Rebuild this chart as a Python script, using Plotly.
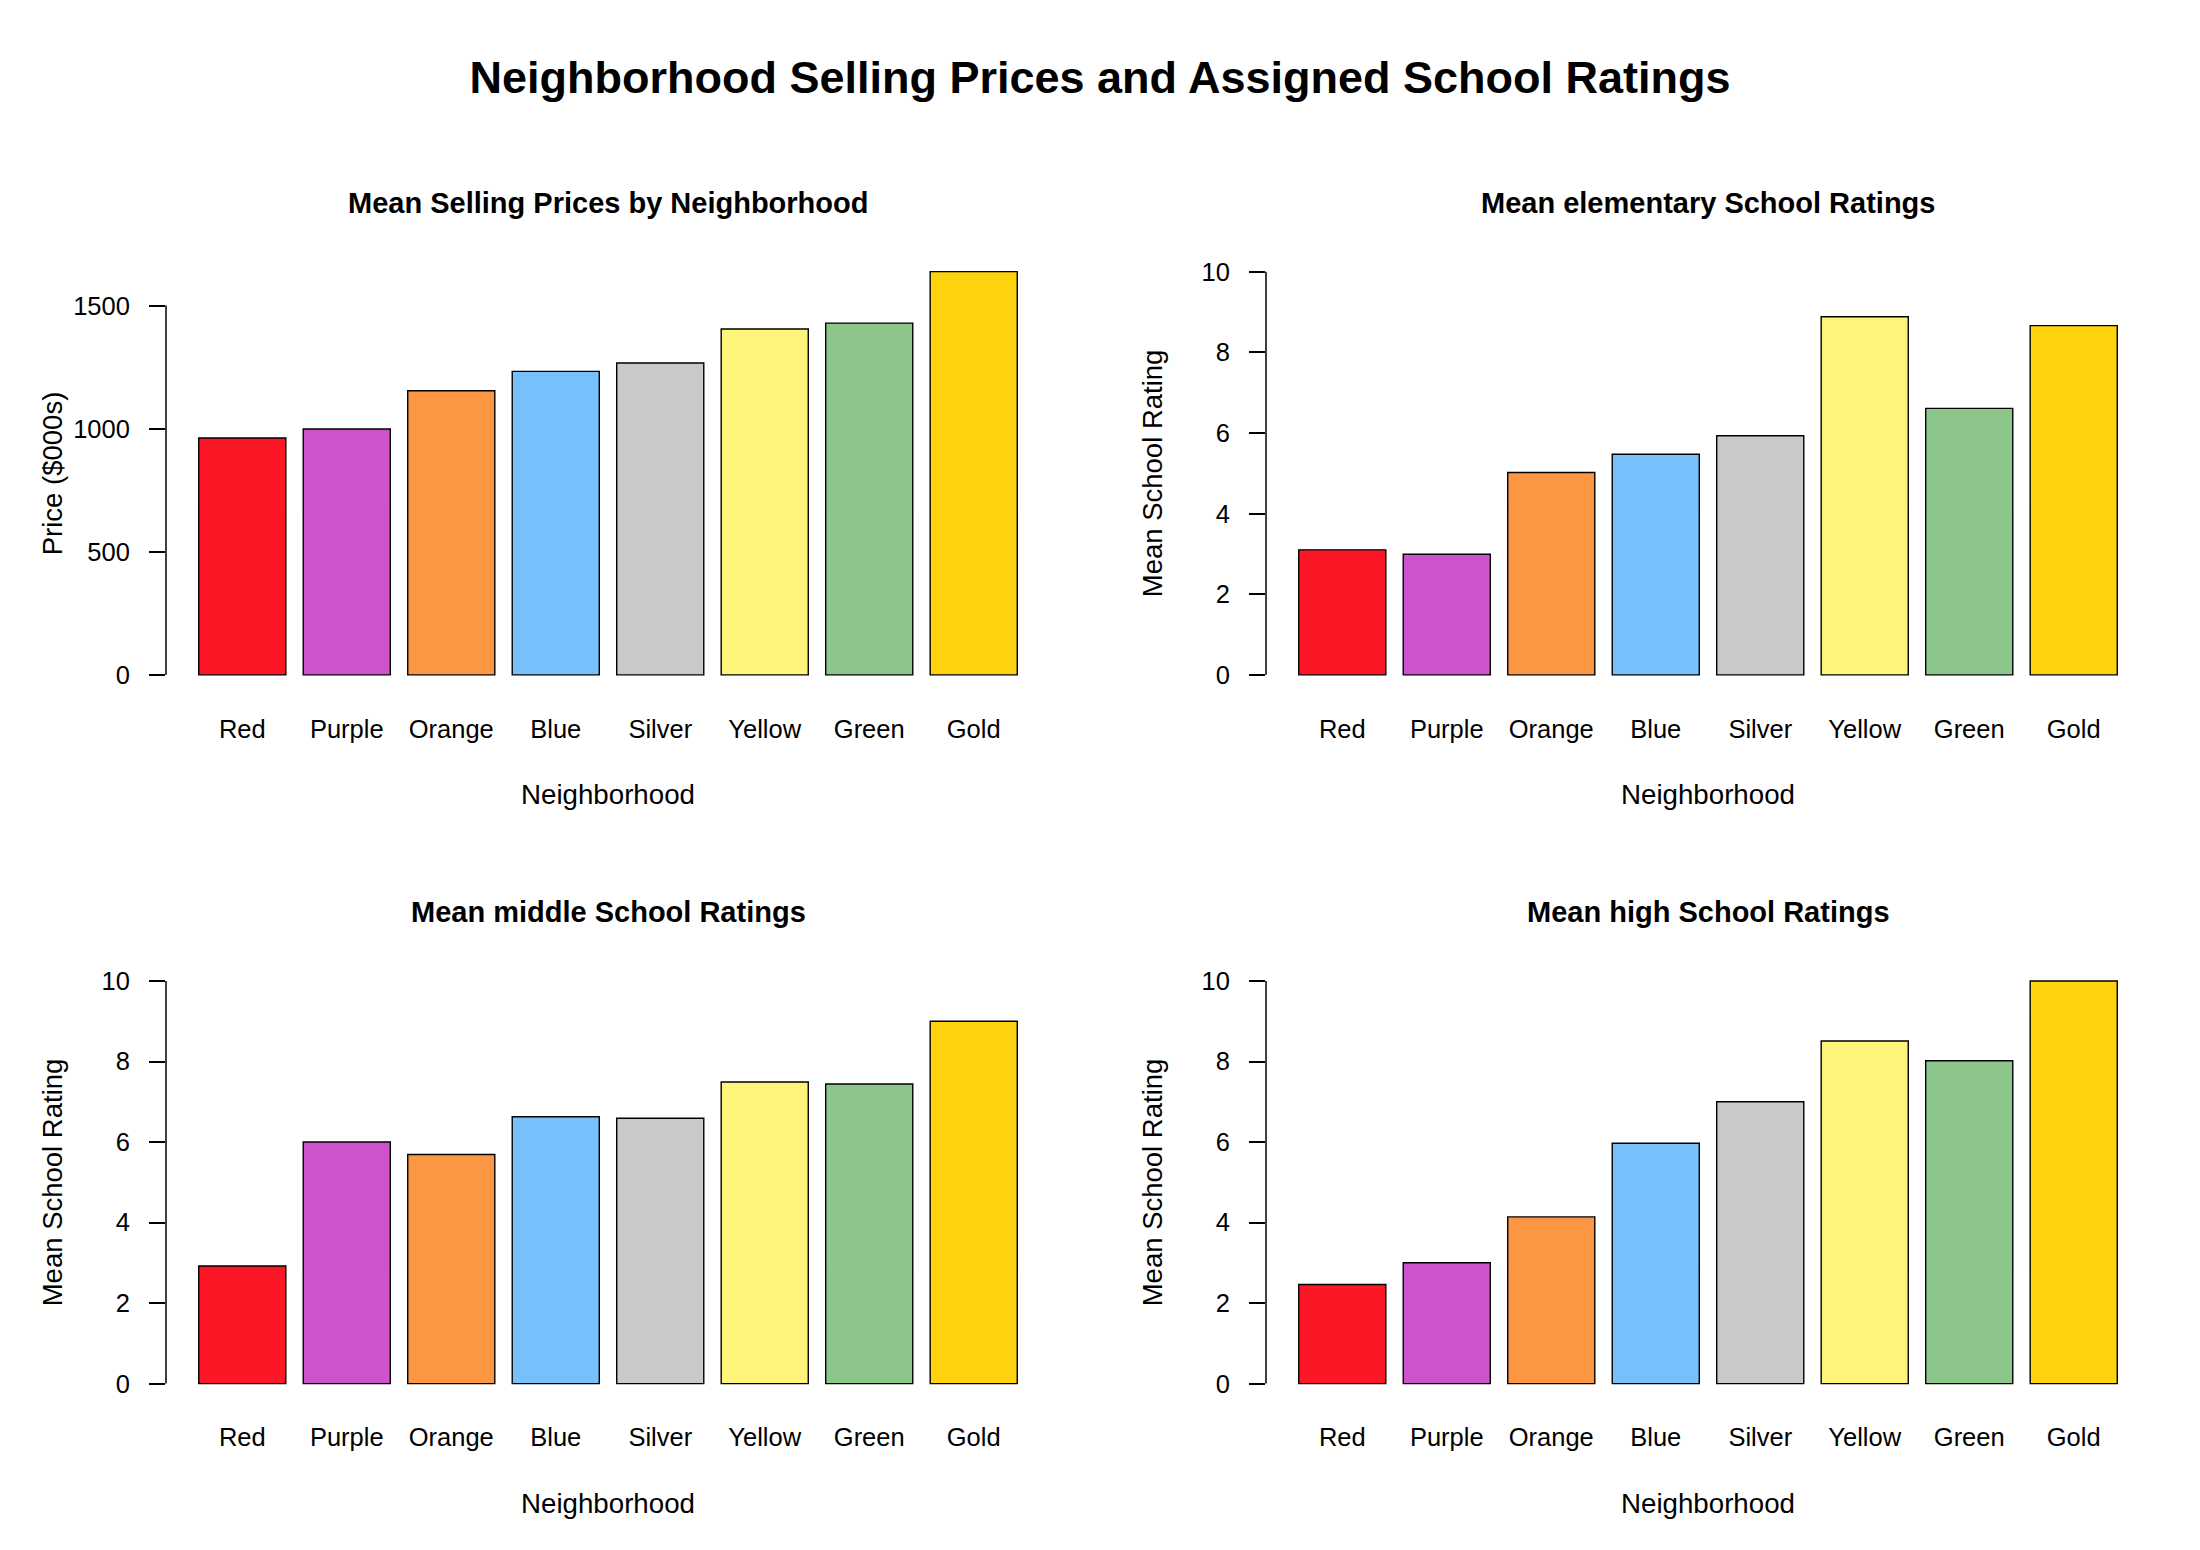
import plotly.graph_objects as go

neighborhoods = ["Red", "Purple", "Orange", "Blue", "Silver", "Yellow", "Green", "Gold"]
bar_colors = ["#FC1727", "#CE52CC", "#FC9642", "#76C1FC", "#C9C9C9", "#FEF47C", "#8CC68A", "#FED20D"]

price = [962, 999, 1154, 1233, 1267, 1405, 1429, 1638]
elementary = [3.10, 2.99, 5.02, 5.47, 5.93, 8.88, 6.61, 8.66]
middle = [2.92, 6.00, 5.69, 6.63, 6.59, 7.49, 7.44, 9.00]
high = [2.46, 3.00, 4.14, 5.97, 7.00, 8.51, 8.02, 10.00]

price_ticks = [0, 500, 1000, 1500]
rating_ticks = [0, 2, 4, 6, 8, 10]

W, H = 2200, 1550
OFF = 8  # page body margin
FONT = "Liberation Sans, Arial, sans-serif"


def fx(px):
    return (px - OFF) / W


def fy(py):
    return 1 - (py - OFF) / H


# panel regions in pixels (left, right, top, bottom)
panels = [
    dict(vals=price, title="Mean Selling Prices by Neighborhood", ytitle="Price ($000s)",
         ticks=price_ticks, yr=[-0.04 * max(price), 1.04 * max(price)], box=(166, 1050, 255.5, 691)),
    dict(vals=elementary, title="Mean elementary School Ratings", ytitle="Mean School Rating",
         ticks=rating_ticks, yr=[-0.4, 10.4], box=(1266, 2150, 255.5, 691)),
    dict(vals=middle, title="Mean middle School Ratings", ytitle="Mean School Rating",
         ticks=rating_ticks, yr=[-0.4, 10.4], box=(166, 1050, 964.9, 1399.7)),
    dict(vals=high, title="Mean high School Ratings", ytitle="Mean School Rating",
         ticks=rating_ticks, yr=[-0.4, 10.4], box=(1266, 2150, 964.9, 1399.7)),
]

fig = go.Figure()
annotations = []
shapes = []

for i, p in enumerate(panels, start=1):
    sfx = "" if i == 1 else str(i)
    left, right, top, bottom = p["box"]
    fig.add_trace(go.Bar(
        x=neighborhoods, y=p["vals"],
        marker=dict(color=bar_colors, line=dict(color="black", width=1.4)),
        xaxis="x" + sfx, yaxis="y" + sfx, showlegend=False, hoverinfo="x+y",
    ))
    fig.update_layout(**{
        "xaxis" + sfx: dict(
            domain=[fx(left), fx(right)], anchor="y" + sfx,
            range=[-0.73, 7.73], showgrid=False, zeroline=False, showline=False,
            ticks="", ticklabelstandoff=20,
            tickfont=dict(family=FONT, size=25.5, color="black"),
        ),
        "yaxis" + sfx: dict(
            domain=[fy(bottom), fy(top)], anchor="x" + sfx,
            range=p["yr"], tickvals=p["ticks"], showgrid=False, zeroline=False,
            showline=False, ticks="outside", ticklen=16, tickwidth=1.5, tickcolor="black",
            ticklabelstandoff=14,
            tickfont=dict(family=FONT, size=25.5, color="black"),
        ),
    })
    # R-style axis line only spanning the tick range
    shapes.append(dict(type="line", xref="x" + sfx + " domain", yref="y" + sfx,
                       x0=0, x1=0, y0=p["ticks"][0], y1=p["ticks"][-1],
                       line=dict(color="black", width=1.5)))
    cx = (left + right) / 2
    row_off = 0 if i <= 2 else 708.7
    annotations.append(dict(text="<b>" + p["title"] + "</b>", x=fx(cx), y=fy(203 + row_off),
                            xref="paper", yref="paper", showarrow=False,
                            xanchor="center", yanchor="middle",
                            font=dict(family=FONT, size=29, color="black")))
    annotations.append(dict(text="Neighborhood", x=fx(cx), y=fy(795 + row_off),
                            xref="paper", yref="paper", showarrow=False,
                            xanchor="center", yanchor="middle",
                            font=dict(family=FONT, size=27.7, color="black")))
    annotations.append(dict(text=p["ytitle"], x=fx(left - 114), y=fy((top + bottom) / 2),
                            xref="paper", yref="paper", showarrow=False, textangle=-90,
                            xanchor="center", yanchor="middle",
                            font=dict(family=FONT, size=27.5, color="black")))

fig.update_layout(
    width=W, height=H,
    margin=dict(l=0, r=0, t=0, b=0),
    paper_bgcolor="white", plot_bgcolor="white",
    bargap=0.1667,
    title=dict(text="<b>Neighborhood Selling Prices and Assigned School Ratings</b>",
               x=fx(1100), xanchor="center", y=fy(77), yanchor="middle",
               font=dict(family=FONT, size=45, color="black")),
    annotations=annotations,
    shapes=shapes,
)

fig.write_html("out.html")
